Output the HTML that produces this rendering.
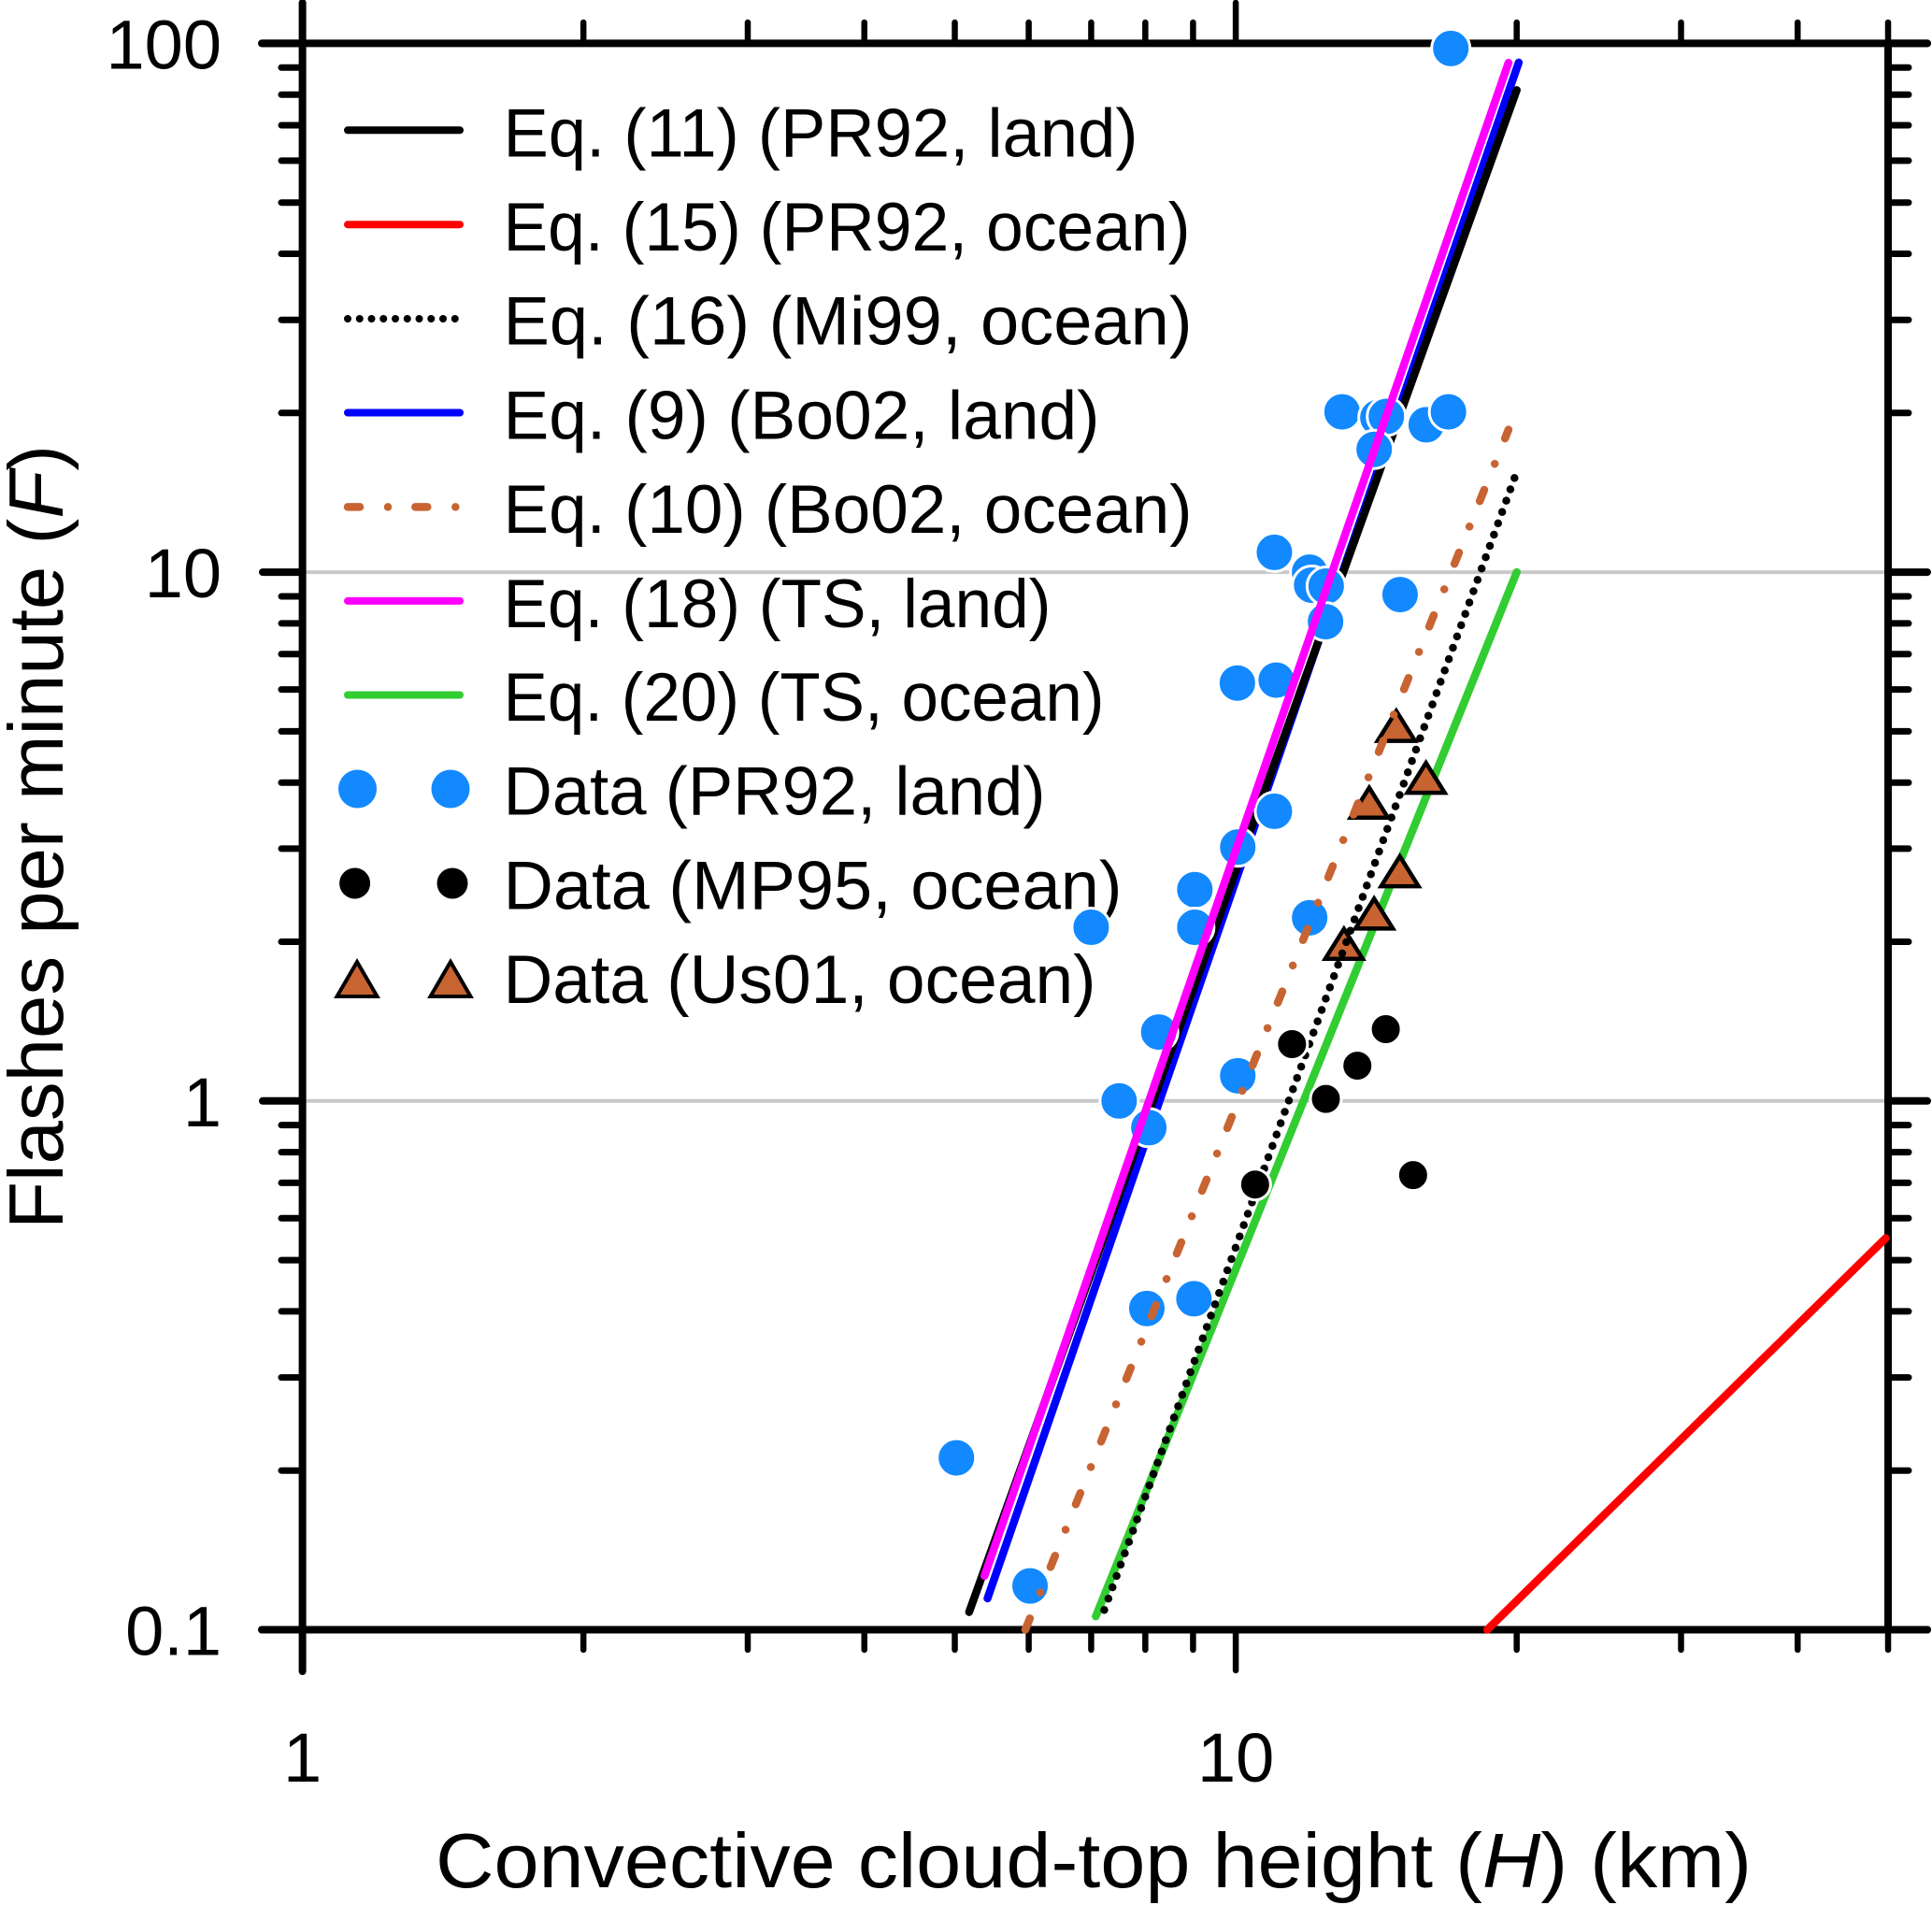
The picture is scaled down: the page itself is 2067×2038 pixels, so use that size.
<!DOCTYPE html>
<html lang="en">
<head>
<meta charset="utf-8">
<title>Flashes per minute vs convective cloud-top height</title>
<style>
html,body{margin:0;padding:0;background:#fff;}
svg{display:block;}
text{font-family:"Liberation Sans",sans-serif;fill:#000;}
</style>
</head>
<body>
<svg id="chart" xmlns="http://www.w3.org/2000/svg" width="2067" height="2038" viewBox="0 0 2067 2038">
  <rect x="0" y="0" width="2067" height="2038" fill="#fff"/>
  <g id="axes"></g>
  <g id="tick-labels"></g>

  <text x="466" y="2019" font-size="83" textLength="1408" lengthAdjust="spacingAndGlyphs">Convective cloud-top height (<tspan font-style="italic">H</tspan>) (km)</text>
  <text transform="translate(67,1315) rotate(-90)" x="0" y="0" font-size="83" textLength="839" lengthAdjust="spacingAndGlyphs">Flashes per minute (<tspan font-style="italic">F</tspan>)</text>

  <g>
    <g>
      <line x1="372" y1="139.3" x2="492" y2="139.3" stroke="#000" stroke-width="8" stroke-linecap="round"/>
      <text x="538.5" y="167.5" font-size="73" textLength="679" lengthAdjust="spacingAndGlyphs">Eq. (11) (PR92, land)</text>
    </g>
    <g>
      <line x1="372" y1="240.2" x2="492" y2="240.2" stroke="#ff0000" stroke-width="8" stroke-linecap="round"/>
      <text x="538.5" y="268" font-size="73" textLength="735" lengthAdjust="spacingAndGlyphs">Eq. (15) (PR92, ocean)</text>
    </g>
    <g>
      <line x1="372" y1="341" x2="488" y2="341" stroke="#000" stroke-width="8" stroke-linecap="round" stroke-dasharray="0 12.75"/>
      <text x="538.5" y="368.7" font-size="73" textLength="737" lengthAdjust="spacingAndGlyphs">Eq. (16) (Mi99, ocean)</text>
    </g>
    <g>
      <line x1="372" y1="441.5" x2="492" y2="441.5" stroke="#0000ff" stroke-width="8" stroke-linecap="round"/>
      <text x="538.5" y="469.4" font-size="73" textLength="638" lengthAdjust="spacingAndGlyphs">Eq. (9) (Bo02, land)</text>
    </g>
    <g>
      <line x1="372" y1="542.4" x2="488" y2="542.4" stroke="#c86432" stroke-width="8.5" stroke-linecap="round" stroke-dasharray="13 30 0.01 29.3"/>
      <text x="538.5" y="570" font-size="73" textLength="737" lengthAdjust="spacingAndGlyphs">Eq. (10) (Bo02, ocean)</text>
    </g>
    <g>
      <line x1="372" y1="642.9" x2="492" y2="642.9" stroke="#ff00ff" stroke-width="8" stroke-linecap="round"/>
      <text x="538.5" y="670.8" font-size="73" textLength="586" lengthAdjust="spacingAndGlyphs">Eq. (18) (TS, land)</text>
    </g>
    <g>
      <line x1="372" y1="743.5" x2="492" y2="743.5" stroke="#32cd32" stroke-width="8" stroke-linecap="round"/>
      <text x="538.5" y="771" font-size="73" textLength="643" lengthAdjust="spacingAndGlyphs">Eq. (20) (TS, ocean)</text>
    </g>
    <g>
      <circle cx="382.5" cy="844" r="20.5" fill="#1289ff"/>
      <circle cx="482" cy="844" r="20.5" fill="#1289ff"/>
      <text x="538.5" y="871.7" font-size="73" textLength="580" lengthAdjust="spacingAndGlyphs">Data (PR92, land)</text>
    </g>
    <g>
      <circle cx="379.6" cy="945" r="16.5" fill="#000"/>
      <circle cx="484" cy="945" r="16.5" fill="#000"/>
      <text x="538.5" y="972.7" font-size="73" textLength="662" lengthAdjust="spacingAndGlyphs">Data (MP95, ocean)</text>
    </g>
    <g>
      <polygon points="382,1029 403.5,1066 360.5,1066" fill="#c86432" stroke="#000" stroke-width="4"/>
      <polygon points="482,1029 503.5,1066 460.5,1066" fill="#c86432" stroke="#000" stroke-width="4"/>
      <text x="538.5" y="1073" font-size="73" textLength="634" lengthAdjust="spacingAndGlyphs">Data (Us01, ocean)</text>
    </g>
  </g>

  <g id="marks"></g>
</svg>

<script>
// ---- axis ticks and labels ----
const xMajorTicks = [1, 10];
const xMinorTicks = [2, 3, 4, 5, 6, 7, 8, 9, 20, 30, 40, 50];
const yMajorTicks = [100, 10, 1, 0.1];
const yMinorTicks = [90, 80, 70, 60, 50, 40, 30, 20, 9, 8, 7, 6, 5, 4, 3, 2, 0.9, 0.8, 0.7, 0.6, 0.5, 0.4, 0.3, 0.2];
const gridValues = [10, 1];
const xTickLabels = ["1", "10"];
const yTickLabels = ["100", "10", "1", "0.1"];
const xMin = 1;
const xMax = 50;
const yMin = 0.1;
const yMax = 100;

// ---- equation lines: H (km) and F (flashes/min) at each end ----
const eq11H = [5.18, 20];
const eq11F = [0.108, 81.6];
const eq15H = [18.6, 49.7];
const eq15F = [0.1, 0.55];
const eq16H = [7.23, 19.9];
const eq16F = [0.109, 15.1];
const eq9H = [5.42, 20.1];
const eq9F = [0.1146, 92];
const eq10H = [5.95, 19.6];
const eq10F = [0.1, 18.6];
const eq18H = [5.38, 19.6];
const eq18F = [0.1264, 91.9];
const eq20H = [7.08, 20];
const eq20F = [0.106, 10];

// ---- data points ----
const pr92H = [17, 13, 14.2, 14.5, 16, 16.9, 14.07, 11, 12, 12.06, 12.5, 15, 12.48, 10.04, 11.05, 11, 10.05, 9.04, 9.04, 7, 12, 8.27, 10.05, 7.5, 8.07, 8.03, 9.02, 5.02, 6.02];
const pr92F = [97.8, 20.1, 19.6, 19.7, 19, 20.1, 17.07, 10.9, 10, 9.45, 9.41, 9.07, 8.06, 6.17, 6.25, 3.53, 3.02, 2.51, 2.13, 2.13, 2.22, 1.35, 1.116, 1, 0.89, 0.405, 0.4226, 0.2114, 0.121];
const mp95H = [11.49, 14.48, 13.5, 12.49, 15.49, 10.49];
const mp95F = [1.281, 1.367, 1.166, 1.009, 0.724, 0.695];
const us01H = [14.86, 15.99, 13.9, 14.99, 14.07, 13.06];
const us01F = [5.14, 4.1, 3.68, 2.73, 2.27, 1.99];

const NS = "http://www.w3.org/2000/svg";
const LEFT = 323.6, XDEC = 998.5, Y1 = 1177.8, YDEC = 565.7;
function xScale(v) { return LEFT + XDEC * Math.log10(v); }
function yScale(v) { return Y1 - YDEC * Math.log10(v); }

function svgLine(parent, x1, y1, x2, y2, color, width) {
  const el = document.createElementNS(NS, "line");
  el.setAttribute("x1", x1);
  el.setAttribute("y1", y1);
  el.setAttribute("x2", x2);
  el.setAttribute("y2", y2);
  el.setAttribute("stroke", color);
  el.setAttribute("stroke-width", width);
  el.setAttribute("stroke-linecap", "round");
  parent.appendChild(el);
  return el;
}

const axes = document.getElementById("axes");
const labelsG = document.getElementById("tick-labels");
const marks = document.getElementById("marks");
const xL = xScale(xMin), xR = xScale(xMax), yT = yScale(yMax), yB = yScale(yMin);

// gridlines
gridValues.forEach(function (v) {
  const el = svgLine(axes, xL + 4, yScale(v), xR - 4, yScale(v), "#c8c8c8", 4);
  el.setAttribute("stroke-linecap", "butt");
  
  
});

// frame
const frameBottom = svgLine(axes, 280, yB, 2062, yB, "#000", 8);


const frameTop = svgLine(axes, 280, yT, 2062, yT, "#000", 8);


const frameLeft = svgLine(axes, xL, 3, xL, 1788, "#000", 8);


const frameRight = svgLine(axes, xR, yT, xR, yB, "#000", 8);



// x ticks
xMinorTicks.forEach(function (v) {
  const t = svgLine(axes, xScale(v), yT, xScale(v), 24, "#000", 6.5);
  
  
  const b = svgLine(axes, xScale(v), yB, xScale(v), 1765, "#000", 6.5);
  
  
});
xMajorTicks.forEach(function (v) {
  const t = svgLine(axes, xScale(v), yT, xScale(v), 3, "#000", 6.5);
  
  
  const b = svgLine(axes, xScale(v), yB, xScale(v), 1787, "#000", 6.5);
  
  
});

// y ticks
yMinorTicks.forEach(function (v) {
  const l = svgLine(axes, xL, yScale(v), 301, yScale(v), "#000", 7);
  
  
  const r = svgLine(axes, xR, yScale(v), 2042, yScale(v), "#000", 7);
  
  
});
yMajorTicks.forEach(function (v) {
  const l = svgLine(axes, xL, yScale(v), 281, yScale(v), "#000", 8);
  
  
  const r = svgLine(axes, xR, yScale(v), 2062, yScale(v), "#000", 8);
  
  
});

// tick labels
xMajorTicks.forEach(function (v, i) {
  const el = document.createElementNS(NS, "text");
  el.setAttribute("x", xScale(v));
  el.setAttribute("y", 1906);
  el.setAttribute("font-size", 74);
  el.setAttribute("text-anchor", "middle");
  el.textContent = xTickLabels[i];
  
  
  labelsG.appendChild(el);
});
yMajorTicks.forEach(function (v, i) {
  const el = document.createElementNS(NS, "text");
  el.setAttribute("x", 237);
  el.setAttribute("y", yScale(v) + 27);
  el.setAttribute("font-size", 74);
  el.setAttribute("text-anchor", "end");
  el.textContent = yTickLabels[i];
  
  
  labelsG.appendChild(el);
});

function drawEq(hs, fs, color, width, dash) {
  const el = svgLine(marks, xScale(hs[0]), yScale(fs[0]), xScale(hs[1]), yScale(fs[1]), color, width);
  if (dash) { el.setAttribute("stroke-dasharray", dash); }
  return el;
}
function drawCircles(group, hs, fs, r, color) {
  hs.forEach(function (h, i) {
    const c = document.createElementNS(NS, "circle");
    c.setAttribute("cx", xScale(h));
    c.setAttribute("cy", yScale(fs[i]));
    c.setAttribute("r", r + 1.5);
    c.setAttribute("fill", color);
    c.setAttribute("stroke", "#fff");
    c.setAttribute("stroke-width", 3);
    
    
    marks.appendChild(c);
  });
}
function drawTriangles(hs, fs) {
  hs.forEach(function (h, i) {
    const px = xScale(h), py = yScale(fs[i]);
    const p = document.createElementNS(NS, "polygon");
    p.setAttribute("points", (px) + "," + (py - 15) + " " + (px + 20) + "," + (py + 17) + " " + (px - 20) + "," + (py + 17));
    p.setAttribute("fill", "#c86432");
    p.setAttribute("stroke", "#000");
    p.setAttribute("stroke-width", 4.5);
    
    
    marks.appendChild(p);
  });
}

const lineEq15 = drawEq(eq15H, eq15F, "#ff0000", 8.5);


const lineEq9 = drawEq(eq9H, eq9F, "#0000ff", 8.5);


const lineEq11 = drawEq(eq11H, eq11F, "#000", 8.5);


const lineEq20 = drawEq(eq20H, eq20F, "#32cd32", 8.5);



drawCircles("pr92-data-point", pr92H, pr92F, 19, "#1289ff");
drawTriangles(us01H, us01F);

const lineEq16 = drawEq(eq16H, eq16F, "#000", 8.5, "0 12.88");



drawCircles("mp95-data-point", mp95H, mp95F, 15, "#000");

const lineEq10 = drawEq(eq10H, eq10F, "#c86432", 8.5, "13 30 0.01 29.3");


const lineEq18 = drawEq(eq18H, eq18F, "#ff00ff", 8.5);


</script>
</body>
</html>
